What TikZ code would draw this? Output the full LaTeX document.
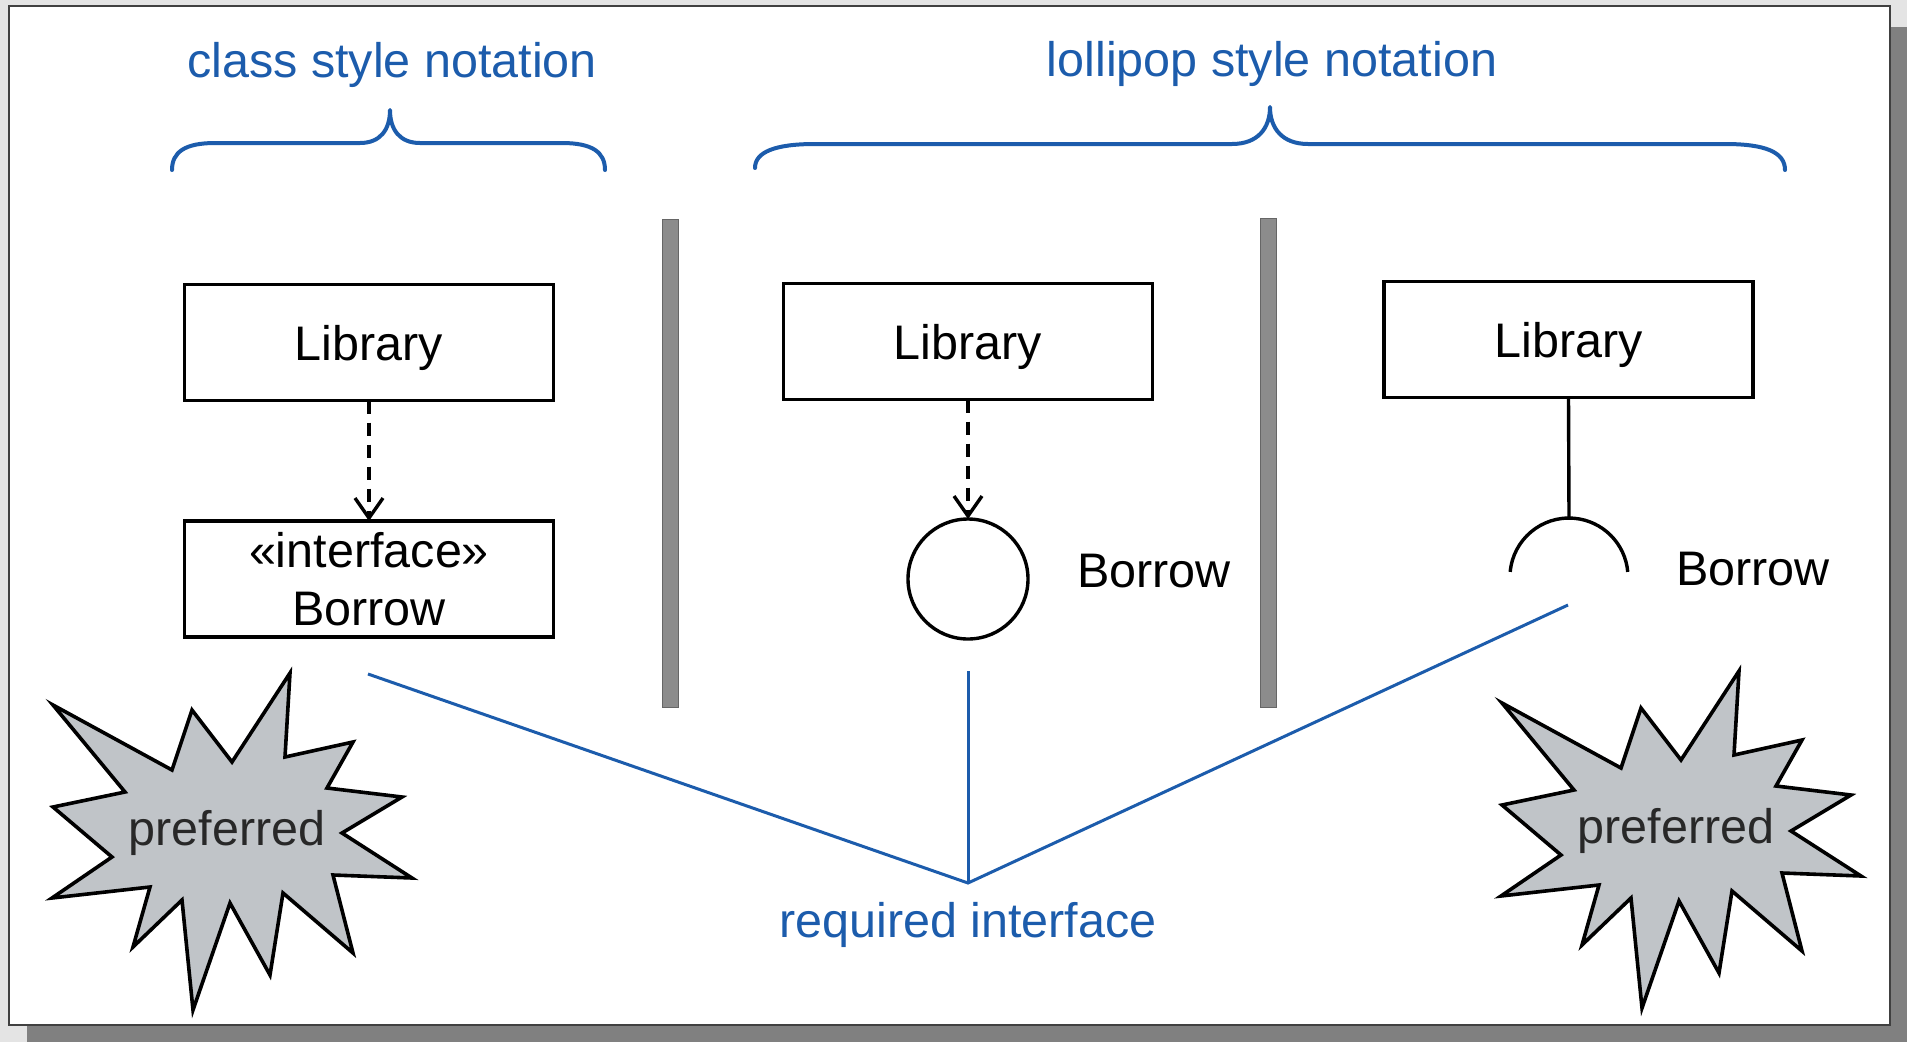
\documentclass[tikz,border=0pt]{standalone}
\usepackage{fontspec}
\setmainfont{Liberation Sans}
\usetikzlibrary{arrows.meta}
\definecolor{ublue}{RGB}{28,92,172}
\definecolor{stargray}{RGB}{192,196,200}
\definecolor{bargray}{RGB}{140,140,140}
\definecolor{shadowgray}{RGB}{128,128,128}
\definecolor{outergray}{RGB}{228,228,228}
\definecolor{inktext}{RGB}{40,40,40}
\begin{document}
\begin{tikzpicture}[x=1pt,y=-1pt,
  every node/.style={font=\fontsize{48.5}{58}\selectfont, inner sep=0pt, outer sep=0pt},
  umlbox/.style={draw=black, line width=3.4pt, fill=white, minimum width=369pt, minimum height=116pt, text height=35pt, text depth=0pt},
  bluetxt/.style={text=ublue},
  blueline/.style={draw=ublue, line width=3pt},
  bracepath/.style={draw=ublue, line width=4pt, line cap=round, line join=round},
  deparrow/.style={draw=black, line width=3.4pt, dash pattern=on 13pt off 9pt, -{Straight Barb[length=20pt,width=28pt]}},
  solidline/.style={draw=black, line width=3.4pt},
  starshape/.style={draw=black, fill=stargray, line width=3.6pt, line join=miter},
  grayb/.style={fill=bargray, draw=black!60, line width=1pt}
]
\useasboundingbox (0,0) rectangle (1907,1042);
% page and shadow
\fill[outergray] (0,0) rectangle (1907,1042);
\fill[shadowgray] (27,27) rectangle (1907,1042);
\draw[fill=white, draw=black!75, line width=2pt] (9,6) rectangle (1890,1025);

% headings and braces
\node[bluetxt, anchor=base] (hclass) at (392,77) {class style notation};
\node[bluetxt, anchor=base] (hlolli) at (1272,76) {lollipop style notation};
\draw[bracepath] (172,170) .. controls (172,152) and (185,143) .. (215,143) -- (360,143)
   .. controls (380,143) and (390,130) .. (390,110)
   .. controls (390,130) and (400,143) .. (420,143) -- (562,143)
   .. controls (592,143) and (605,152) .. (605,170);
\draw[bracepath] (755,168) .. controls (755,152) and (775,144) .. (815,144) -- (1232,144)
   .. controls (1258,144) and (1270,128) .. (1270,107)
   .. controls (1270,128) and (1282,144) .. (1308,144) -- (1725,144)
   .. controls (1765,144) and (1785,152) .. (1785,170);

% separators
\draw[grayb] (662,219) rectangle (678,707);
\draw[grayb] (1260,218) rectangle (1276,707);

% class style
\node[umlbox] (lib1) at (369,342.5) {Library};
\node[umlbox] (iface) at (369,579) {};
\node[anchor=base] (ifacet) at (369,567) {«interface»};
\node[anchor=base] (ifaceb) at (369,625) {Borrow};
\draw[deparrow] (lib1.south) -- (iface.north);

% lollipop (provided)
\node[umlbox] (lib2) at (968,341.5) {Library};
\node[circle, draw=black, line width=3.4pt, minimum size=120pt, fill=white] (circ) at (968,579) {};
\draw[deparrow] (lib2.south) -- (circ.north);
\node[anchor=base west] (bor2) at (1077,587) {Borrow};

% socket (required)
\node[umlbox] (lib3) at (1568.5,339.5) {Library};
\coordinate (sockTop) at (1569,518);
\coordinate (sockL) at (1510.2,571.9);
\draw[solidline] (lib3.south) -- (sockTop);
\draw[solidline] (sockL) arc[start angle=185, end angle=355, radius=59];
\node[anchor=base west] (bor3) at (1676,585) {Borrow};

% required interface lines
\coordinate (ri) at (968,883);
\coordinate (p1) at (368,674);
\coordinate (p2) at (968,671);
\coordinate (p3) at (1568,605);
\draw[blueline] (p1) -- (ri) -- (p3);
\draw[blueline] (p2) -- (ri);
\node[bluetxt, anchor=base] (hreq) at (968,937) {required interface};

% starbursts
\foreach \dx/\dy/\nm in {0/0/pref1, 1449/-2/pref2}{
\begin{scope}[shift={(\dx,\dy)}]
\draw[starshape] (53,705) -- (172,770) -- (192,710) -- (232,762) -- (290,673) -- (285,757)
  -- (353,742) -- (327,788) -- (402,797) -- (342,833) -- (412,878) -- (333,875)
  -- (353,953) -- (283,893) -- (270,975) -- (230,903) -- (193,1010) -- (182,900)
  -- (133,947) -- (150,887) -- (52,898) -- (112,857) -- (53,807) -- (125,792) -- cycle;
\node[text=inktext] (\nm) at (227,833) {preferred};
\end{scope}
}
\end{tikzpicture}
\end{document}
